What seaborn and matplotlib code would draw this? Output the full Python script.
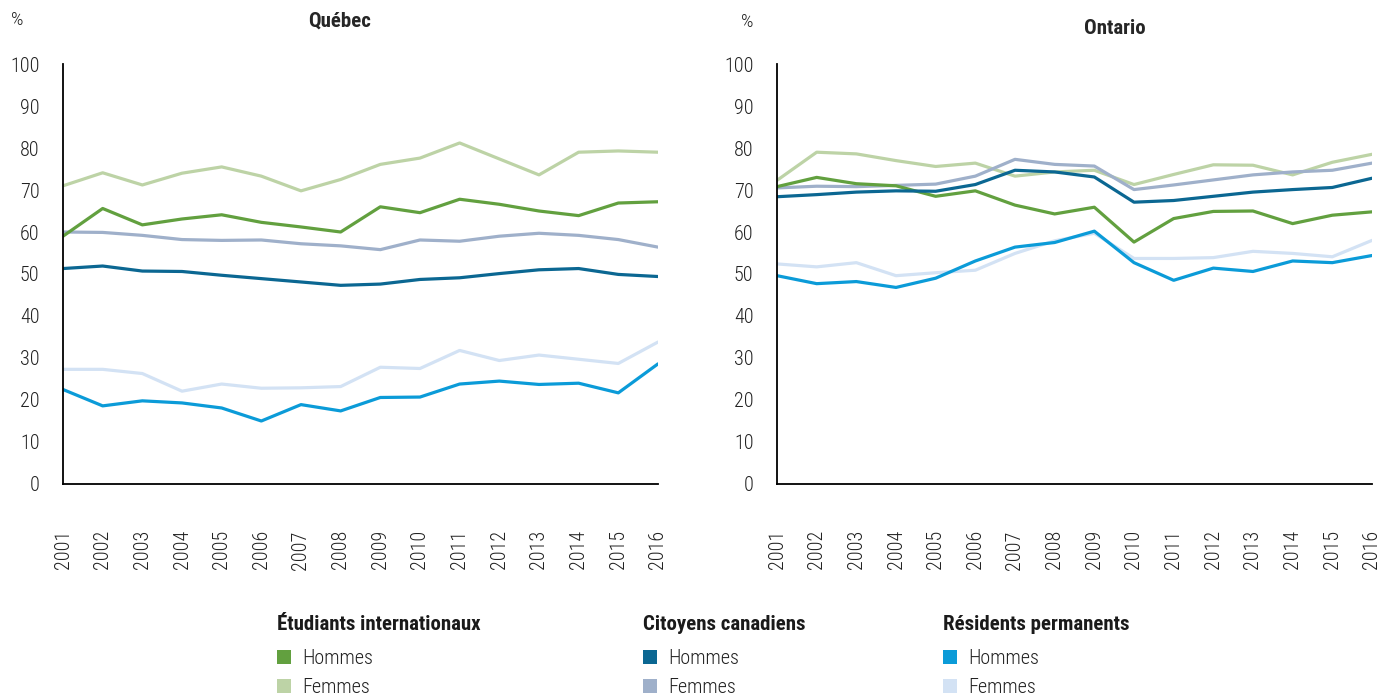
import pandas as pd
import seaborn as sns
import matplotlib.pyplot as plt
from matplotlib.patches import Patch

years = list(range(2001, 2017))

# Québec
qc_intl_h = [59.0, 65.6, 61.7, 63.1, 64.1, 62.3, 61.2, 60.0, 66.0, 64.6, 67.8, 66.6, 65.0, 63.9, 66.9, 67.2]
qc_intl_f = [71.0, 74.1, 71.2, 74.0, 75.5, 73.3, 69.8, 72.5, 76.1, 77.6, 81.2, 77.4, 73.6, 79.0, 79.3, 79.0]
qc_cit_h = [51.3, 51.9, 50.7, 50.6, 49.7, 48.9, 48.1, 47.3, 47.6, 48.7, 49.1, 50.1, 51.0, 51.3, 49.9, 49.4]
qc_cit_f = [60.0, 59.9, 59.2, 58.2, 58.0, 58.1, 57.2, 56.7, 55.8, 58.1, 57.8, 59.0, 59.7, 59.2, 58.2, 56.4]
qc_res_h = [22.5, 18.6, 19.8, 19.3, 18.1, 15.0, 18.9, 17.4, 20.6, 20.7, 23.8, 24.5, 23.7, 24.0, 21.7, 28.6]
qc_res_f = [27.3, 27.3, 26.3, 22.1, 23.8, 22.8, 22.9, 23.2, 27.8, 27.5, 31.8, 29.4, 30.7, 29.7, 28.7, 33.8]

# Ontario
on_intl_h = [70.8, 73.0, 71.5, 71.0, 68.5, 69.8, 66.4, 64.3, 65.9, 57.6, 63.2, 64.9, 65.0, 62.0, 64.0, 64.8]
on_intl_f = [72.3, 79.0, 78.6, 77.0, 75.6, 76.4, 73.3, 74.3, 74.7, 71.3, 73.7, 76.0, 75.9, 73.6, 76.6, 78.5]
on_cit_h = [68.4, 68.9, 69.5, 69.8, 69.7, 71.3, 74.7, 74.3, 73.1, 67.1, 67.5, 68.5, 69.5, 70.1, 70.6, 72.8]
on_cit_f = [70.5, 70.9, 70.8, 71.1, 71.4, 73.3, 77.3, 76.1, 75.7, 70.1, 71.2, 72.4, 73.6, 74.3, 74.7, 76.4]
on_res_h = [49.6, 47.7, 48.2, 46.8, 49.0, 53.1, 56.4, 57.5, 60.2, 52.7, 48.5, 51.4, 50.6, 53.1, 52.7, 54.4]
on_res_f = [52.4, 51.7, 52.7, 49.6, 50.3, 50.9, 54.9, 57.9, 59.7, 53.7, 53.7, 53.9, 55.4, 54.9, 54.1, 58.0]

groups = ['Étudiants internationaux', 'Citoyens canadiens', 'Résidents permanents']
sexes = ['Hommes', 'Femmes']
colors = {
    ('Étudiants internationaux', 'Hommes'): '#62a03f',
    ('Étudiants internationaux', 'Femmes'): '#bdd3a6',
    ('Citoyens canadiens', 'Hommes'): '#0b6792',
    ('Citoyens canadiens', 'Femmes'): '#9fb0ca',
    ('Résidents permanents', 'Hommes'): '#0b9bd8',
    ('Résidents permanents', 'Femmes'): '#d3e2f4',
}

series = {
    'Québec': [qc_intl_h, qc_intl_f, qc_cit_h, qc_cit_f, qc_res_h, qc_res_f],
    'Ontario': [on_intl_h, on_intl_f, on_cit_h, on_cit_f, on_res_h, on_res_f],
}
keys = [(g, s) for g in groups for s in sexes]

rows = []
for prov, vals in series.items():
    for (g, s), v in zip(keys, vals):
        for y, val in zip(years, v):
            rows.append({'prov': prov, 'serie': g + ' - ' + s, 'year': y, 'val': val})
df = pd.DataFrame(rows)

# femmes drawn first, hommes on top
order = [g + ' - Femmes' for g in groups] + [g + ' - Hommes' for g in groups]
palette = {g + ' - ' + s: colors[(g, s)] for (g, s) in keys}

sns.set_style('white')
plt.rcParams['font.family'] = ['Roboto Condensed', 'IBM Plex Sans Condensed', 'DejaVu Sans']

fig = plt.figure(figsize=(13.94, 6.98), dpi=100)
ax1 = fig.add_axes([0.0452, 0.3066, 0.4268, 0.6017])
ax2 = fig.add_axes([0.5574, 0.3066, 0.4268, 0.6017])

for ax, prov in [(ax1, 'Québec'), (ax2, 'Ontario')]:
    sub = df[df.prov == prov]
    sns.lineplot(data=sub, x='year', y='val', hue='serie', hue_order=order,
                 palette=palette, linewidth=2.3, legend=False, ax=ax)
    ax.set_xlim(2001, 2016)
    ax.set_ylim(0, 100)
    ax.set_xticks(years)
    ax.set_xticklabels([str(y) for y in years], rotation=90, va='top', fontweight='light')
    ax.set_yticks(range(0, 101, 10))
    ax.set_yticklabels([str(v) for v in range(0, 101, 10)], fontweight='light')
    ax.set_xlabel('')
    ax.set_ylabel('')
    for sp in ['top', 'right']:
        ax.spines[sp].set_visible(False)
    for sp in ['left', 'bottom']:
        ax.spines[sp].set_color('black')
        ax.spines[sp].set_linewidth(1.3)
    ax.tick_params(axis='x', direction='out', length=4.3, width=1, color='black',
                   labelsize=14.5, labelcolor='#222222', pad=29)
    ax.tick_params(axis='y', direction='out', length=2.9, width=1, color='black',
                   labelsize=14.5, labelcolor='#222222', pad=14)

fig.text(17 / 1394, 1 - 20 / 698, '%', fontsize=14, color='#222222', ha='center', va='center',
         fontweight='light')
fig.text(340 / 1394, 1 - 21 / 698, 'Québec', fontsize=15, fontweight='bold', ha='center', va='center')
fig.text(747 / 1394, 1 - 22 / 698, '%', fontsize=14, color='#222222', ha='center', va='center',
         fontweight='light')
fig.text(1115 / 1394, 1 - 28 / 698, 'Ontario', fontsize=15, fontweight='bold', ha='center', va='center')

for g, xpx in zip(groups, [277, 643, 943]):
    fig.text(xpx / 1394, 1 - 624 / 698, g, fontsize=15, fontweight='bold',
             color='#1a1a1a', ha='left', va='center')
    handles = [Patch(facecolor=colors[(g, s)], edgecolor='none') for s in sexes]
    fig.legend(handles, sexes, loc='upper left', bbox_to_anchor=(xpx / 1394, 1 - 649 / 698),
               frameon=False, prop={'size': 14.5, 'weight': 'light'}, labelcolor='#222222',
               handlelength=0.7, handleheight=0.7, handletextpad=0.55,
               labelspacing=0.5, borderaxespad=0, borderpad=0)

plt.savefig('out.png', dpi=100)
